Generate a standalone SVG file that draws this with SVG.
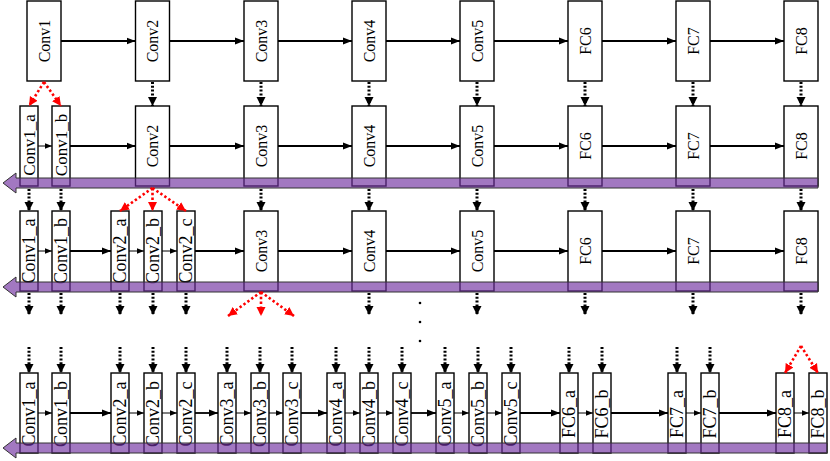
<svg xmlns="http://www.w3.org/2000/svg" width="830" height="461" viewBox="0 0 830 461">
<style>
.box{fill:#fff;stroke:#000;stroke-width:1.4}
.lbl{font-family:"Liberation Serif","Times New Roman",serif;font-size:16px;fill:#000;text-anchor:middle}
.sl{font-size:17px}
.sl2{font-size:18px}
.thick{stroke:#000;stroke-width:1.8;fill:none;marker-end:url(#ah)}
.thin{stroke:#000;stroke-width:1;fill:none;marker-end:url(#ahs)}
.dot{stroke:#000;stroke-width:3;stroke-dasharray:2 1.8;fill:none;marker-end:url(#ahd)}
.red{stroke:#f00;stroke-width:2.6;stroke-dasharray:2.4 2.4;fill:none;marker-end:url(#ahr)}
.bar{fill:#7030A0;fill-opacity:0.65;stroke:#333;stroke-width:1}
</style>
<defs>
<marker id="ah" markerUnits="userSpaceOnUse" markerWidth="9" markerHeight="8" refX="9" refY="4" orient="auto"><path d="M0,0.5 L9,4 L0,7.5 z" fill="#000"/></marker>
<marker id="ahs" markerUnits="userSpaceOnUse" markerWidth="7" markerHeight="7" refX="7" refY="3.5" orient="auto"><path d="M0,0.8 L7,3.5 L0,6.2 z" fill="#000"/></marker>
<marker id="ahd" markerUnits="userSpaceOnUse" markerWidth="9" markerHeight="10" refX="9" refY="5" orient="auto"><path d="M0,0.5 L9,5 L0,9.5 z" fill="#000"/></marker>
<marker id="ahr" markerUnits="userSpaceOnUse" markerWidth="9" markerHeight="10" refX="9" refY="5" orient="auto"><path d="M0,0.5 L9,5 L0,9.5 z" fill="#f00"/></marker>
</defs>

<!-- Row 1 -->
<g id="r1-conv1"><rect class="box" x="27" y="1" width="34" height="80"/><text class="lbl" transform="translate(44,41) rotate(-90)" y="5.5">Conv1</text></g>
<g id="r1-conv2"><rect class="box" x="135.5" y="1" width="34" height="80"/><text class="lbl" transform="translate(152.5,41) rotate(-90)" y="5.5">Conv2</text></g>
<g id="r1-conv3"><rect class="box" x="244" y="1" width="34" height="80"/><text class="lbl" transform="translate(261,41) rotate(-90)" y="5.5">Conv3</text></g>
<g id="r1-conv4"><rect class="box" x="352" y="1" width="34" height="80"/><text class="lbl" transform="translate(369,41) rotate(-90)" y="5.5">Conv4</text></g>
<g id="r1-conv5"><rect class="box" x="460" y="1" width="34" height="80"/><text class="lbl" transform="translate(477,41) rotate(-90)" y="5.5">Conv5</text></g>
<g id="r1-fc6"><rect class="box" x="568" y="1" width="34" height="80"/><text class="lbl" transform="translate(585,41) rotate(-90)" y="5.5">FC6</text></g>
<g id="r1-fc7"><rect class="box" x="676" y="1" width="34" height="80"/><text class="lbl" transform="translate(693,41) rotate(-90)" y="5.5">FC7</text></g>
<g id="r1-fc8"><rect class="box" x="784" y="1" width="34" height="80"/><text class="lbl" transform="translate(801,41) rotate(-90)" y="5.5">FC8</text></g>

<!-- Row 2 -->
<g id="r2-conv1a"><rect class="box" x="20" y="106" width="18" height="80"/><text class="lbl sl" transform="translate(29,145) rotate(-90)" y="5.8">Conv1_a</text></g>
<g id="r2-conv1b"><rect class="box" x="52" y="106" width="18" height="80"/><text class="lbl sl" transform="translate(61,145) rotate(-90)" y="5.8">Conv1_b</text></g>
<g id="r2-conv2"><rect class="box" x="135.5" y="106" width="34" height="80"/><text class="lbl" transform="translate(152.5,146) rotate(-90)" y="5.5">Conv2</text></g>
<g id="r2-conv3"><rect class="box" x="244" y="106" width="34" height="80"/><text class="lbl" transform="translate(261,146) rotate(-90)" y="5.5">Conv3</text></g>
<g id="r2-conv4"><rect class="box" x="352" y="106" width="34" height="80"/><text class="lbl" transform="translate(369,146) rotate(-90)" y="5.5">Conv4</text></g>
<g id="r2-conv5"><rect class="box" x="460" y="106" width="34" height="80"/><text class="lbl" transform="translate(477,146) rotate(-90)" y="5.5">Conv5</text></g>
<g id="r2-fc6"><rect class="box" x="568" y="106" width="34" height="80"/><text class="lbl" transform="translate(585,146) rotate(-90)" y="5.5">FC6</text></g>
<g id="r2-fc7"><rect class="box" x="676" y="106" width="34" height="80"/><text class="lbl" transform="translate(693,146) rotate(-90)" y="5.5">FC7</text></g>
<g id="r2-fc8"><rect class="box" x="784" y="106" width="34" height="80"/><text class="lbl" transform="translate(801,146) rotate(-90)" y="5.5">FC8</text></g>

<!-- Row 3 -->
<g id="r3-conv1a"><rect class="box" x="20" y="211" width="18" height="80"/><text class="lbl sl2" transform="translate(29,251) rotate(-90)" y="6">Conv1_a</text></g>
<g id="r3-conv1b"><rect class="box" x="52" y="211" width="18" height="80"/><text class="lbl sl2" transform="translate(61,251) rotate(-90)" y="6">Conv1_b</text></g>
<g id="r3-conv2a"><rect class="box" x="111" y="211" width="18" height="80"/><text class="lbl sl2" transform="translate(120,251) rotate(-90)" y="6">Conv2_a</text></g>
<g id="r3-conv2b"><rect class="box" x="144" y="211" width="18" height="80"/><text class="lbl sl2" transform="translate(153,251) rotate(-90)" y="6">Conv2_b</text></g>
<g id="r3-conv2c"><rect class="box" x="177" y="211" width="18" height="80"/><text class="lbl sl2" transform="translate(186,251) rotate(-90)" y="6">Conv2_c</text></g>
<g id="r3-conv3"><rect class="box" x="244" y="211" width="34" height="80"/><text class="lbl" transform="translate(261,251) rotate(-90)" y="5.5">Conv3</text></g>
<g id="r3-conv4"><rect class="box" x="352" y="211" width="34" height="80"/><text class="lbl" transform="translate(369,251) rotate(-90)" y="5.5">Conv4</text></g>
<g id="r3-conv5"><rect class="box" x="460" y="211" width="34" height="80"/><text class="lbl" transform="translate(477,251) rotate(-90)" y="5.5">Conv5</text></g>
<g id="r3-fc6"><rect class="box" x="568" y="211" width="34" height="80"/><text class="lbl" transform="translate(585,251) rotate(-90)" y="5.5">FC6</text></g>
<g id="r3-fc7"><rect class="box" x="676" y="211" width="34" height="80"/><text class="lbl" transform="translate(693,251) rotate(-90)" y="5.5">FC7</text></g>
<g id="r3-fc8"><rect class="box" x="784" y="211" width="34" height="80"/><text class="lbl" transform="translate(801,251) rotate(-90)" y="5.5">FC8</text></g>

<!-- Row 4 -->
<g id="r4-conv1a"><rect class="box" x="20" y="373" width="18" height="80"/><text class="lbl sl2" transform="translate(29,414) rotate(-90)" y="6">Conv1_a</text></g>
<g id="r4-conv1b"><rect class="box" x="52" y="373" width="18" height="80"/><text class="lbl sl2" transform="translate(61,414) rotate(-90)" y="6">Conv1_b</text></g>
<g id="r4-conv2a"><rect class="box" x="111" y="373" width="18" height="80"/><text class="lbl sl2" transform="translate(120,414) rotate(-90)" y="6">Conv2_a</text></g>
<g id="r4-conv2b"><rect class="box" x="144" y="373" width="18" height="80"/><text class="lbl sl2" transform="translate(153,414) rotate(-90)" y="6">Conv2_b</text></g>
<g id="r4-conv2c"><rect class="box" x="177" y="373" width="18" height="80"/><text class="lbl sl2" transform="translate(186,414) rotate(-90)" y="6">Conv2_c</text></g>
<g id="r4-conv3a"><rect class="box" x="218" y="373" width="18" height="80"/><text class="lbl sl2" transform="translate(227,414) rotate(-90)" y="6">Conv3_a</text></g>
<g id="r4-conv3b"><rect class="box" x="251" y="373" width="18" height="80"/><text class="lbl sl2" transform="translate(260,414) rotate(-90)" y="6">Conv3_b</text></g>
<g id="r4-conv3c"><rect class="box" x="283" y="373" width="18" height="80"/><text class="lbl sl2" transform="translate(292,414) rotate(-90)" y="6">Conv3_c</text></g>
<g id="r4-conv4a"><rect class="box" x="327" y="373" width="18" height="80"/><text class="lbl sl2" transform="translate(336,414) rotate(-90)" y="6">Conv4_a</text></g>
<g id="r4-conv4b"><rect class="box" x="360" y="373" width="18" height="80"/><text class="lbl sl2" transform="translate(369,414) rotate(-90)" y="6">Conv4_b</text></g>
<g id="r4-conv4c"><rect class="box" x="393" y="373" width="18" height="80"/><text class="lbl sl2" transform="translate(402,414) rotate(-90)" y="6">Conv4_c</text></g>
<g id="r4-conv5a"><rect class="box" x="436" y="373" width="18" height="80"/><text class="lbl sl2" transform="translate(445,414) rotate(-90)" y="6">Conv5_a</text></g>
<g id="r4-conv5b"><rect class="box" x="469" y="373" width="18" height="80"/><text class="lbl sl2" transform="translate(478,414) rotate(-90)" y="6">Conv5_b</text></g>
<g id="r4-conv5c"><rect class="box" x="502" y="373" width="18" height="80"/><text class="lbl sl2" transform="translate(511,414) rotate(-90)" y="6">Conv5_c</text></g>
<g id="r4-fc6a"><rect class="box" x="560" y="373" width="18" height="80"/><text class="lbl sl2" transform="translate(569,414) rotate(-90)" y="6">FC6_a</text></g>
<g id="r4-fc6b"><rect class="box" x="593" y="373" width="18" height="80"/><text class="lbl sl2" transform="translate(602,414) rotate(-90)" y="6">FC6_b</text></g>
<g id="r4-fc7a"><rect class="box" x="668" y="373" width="18" height="80"/><text class="lbl sl2" transform="translate(677,414) rotate(-90)" y="6">FC7_a</text></g>
<g id="r4-fc7b"><rect class="box" x="701" y="373" width="18" height="80"/><text class="lbl sl2" transform="translate(710,414) rotate(-90)" y="6">FC7_b</text></g>
<g id="r4-fc8a"><rect class="box" x="776" y="373" width="18" height="80"/><text class="lbl sl2" transform="translate(785,414) rotate(-90)" y="6">FC8_a</text></g>
<g id="r4-fc8b"><rect class="box" x="809" y="373" width="18" height="80"/><text class="lbl sl2" transform="translate(818,414) rotate(-90)" y="6">FC8_b</text></g>

<!-- Backward bars -->
<g id="bars">
<polygon class="bar" points="3,183 16,173 16,178 818,178 818,188 16,188 16,193"/>
<polygon class="bar" points="3,287 16,277 16,282 818,282 818,292 16,292 16,297"/>
<polygon class="bar" points="3,448 16,438 16,443 827,443 827,453 16,453 16,458"/>
</g>

<g id="connectors">
<!-- row 1 -->
<line class="thick" x1="61" y1="41" x2="135.5" y2="41"/>
<line class="thick" x1="169.5" y1="41" x2="244" y2="41"/>
<line class="thick" x1="278" y1="41" x2="352" y2="41"/>
<line class="thick" x1="386" y1="41" x2="460" y2="41"/>
<line class="thick" x1="494" y1="41" x2="568" y2="41"/>
<line class="thick" x1="602" y1="41" x2="676" y2="41"/>
<line class="thick" x1="710" y1="41" x2="784" y2="41"/>
<!-- row 2 -->
<line class="thin" x1="38" y1="146" x2="52" y2="146"/>
<line class="thick" x1="70" y1="146" x2="135.5" y2="146"/>
<line class="thick" x1="169.5" y1="146" x2="244" y2="146"/>
<line class="thick" x1="278" y1="146" x2="352" y2="146"/>
<line class="thick" x1="386" y1="146" x2="460" y2="146"/>
<line class="thick" x1="494" y1="146" x2="568" y2="146"/>
<line class="thick" x1="602" y1="146" x2="676" y2="146"/>
<line class="thick" x1="710" y1="146" x2="784" y2="146"/>
<!-- row 3 -->
<line class="thin" x1="38" y1="251" x2="52" y2="251"/>
<line class="thick" x1="70" y1="251" x2="111" y2="251"/>
<line class="thin" x1="129" y1="251" x2="144" y2="251"/>
<line class="thin" x1="162" y1="251" x2="177" y2="251"/>
<line class="thick" x1="195" y1="251" x2="244" y2="251"/>
<line class="thick" x1="278" y1="251" x2="352" y2="251"/>
<line class="thick" x1="386" y1="251" x2="460" y2="251"/>
<line class="thick" x1="494" y1="251" x2="568" y2="251"/>
<line class="thick" x1="602" y1="251" x2="676" y2="251"/>
<line class="thick" x1="710" y1="251" x2="784" y2="251"/>
<!-- row 4 -->
<line class="thin" x1="38" y1="413" x2="52" y2="413"/>
<line class="thick" x1="70" y1="413" x2="111" y2="413"/>
<line class="thin" x1="129" y1="413" x2="144" y2="413"/>
<line class="thin" x1="162" y1="413" x2="177" y2="413"/>
<line class="thick" x1="195" y1="413" x2="218" y2="413"/>
<line class="thin" x1="236" y1="413" x2="251" y2="413"/>
<line class="thin" x1="269" y1="413" x2="283" y2="413"/>
<line class="thick" x1="301" y1="413" x2="327" y2="413"/>
<line class="thin" x1="345" y1="413" x2="360" y2="413"/>
<line class="thin" x1="378" y1="413" x2="393" y2="413"/>
<line class="thick" x1="411" y1="413" x2="436" y2="413"/>
<line class="thin" x1="454" y1="413" x2="469" y2="413"/>
<line class="thin" x1="487" y1="413" x2="502" y2="413"/>
<line class="thick" x1="520" y1="413" x2="560" y2="413"/>
<line class="thin" x1="578" y1="413" x2="593" y2="413"/>
<line class="thick" x1="611" y1="413" x2="668" y2="413"/>
<line class="thin" x1="686" y1="413" x2="701" y2="413"/>
<line class="thick" x1="719" y1="413" x2="776" y2="413"/>
<line class="thin" x1="794" y1="413" x2="809" y2="413"/>

<!-- row1 -> row2 -->
<line class="red" x1="44" y1="82" x2="29" y2="106"/>
<line class="red" x1="44" y1="82" x2="61" y2="106"/>
<line class="dot" x1="152.5" y1="82" x2="152.5" y2="106"/>
<line class="dot" x1="261" y1="82" x2="261" y2="106"/>
<line class="dot" x1="369" y1="82" x2="369" y2="106"/>
<line class="dot" x1="477" y1="82" x2="477" y2="106"/>
<line class="dot" x1="585" y1="82" x2="585" y2="106"/>
<line class="dot" x1="693" y1="82" x2="693" y2="106"/>
<line class="dot" x1="801" y1="82" x2="801" y2="106"/>
<!-- row2 -> row3 -->
<line class="dot" x1="29" y1="189" x2="29" y2="211"/>
<line class="dot" x1="61" y1="189" x2="61" y2="211"/>
<line class="red" x1="152.5" y1="188" x2="120" y2="211"/>
<line class="red" x1="152.5" y1="188" x2="152.5" y2="211"/>
<line class="red" x1="152.5" y1="188" x2="186" y2="211"/>
<line class="dot" x1="261" y1="189" x2="261" y2="211"/>
<line class="dot" x1="369" y1="189" x2="369" y2="211"/>
<line class="dot" x1="477" y1="189" x2="477" y2="211"/>
<line class="dot" x1="585" y1="189" x2="585" y2="211"/>
<line class="dot" x1="693" y1="189" x2="693" y2="211"/>
<line class="dot" x1="801" y1="189" x2="801" y2="211"/>
<!-- row3 -> below -->
<line class="dot" x1="29" y1="293" x2="29" y2="315"/>
<line class="dot" x1="61" y1="293" x2="61" y2="315"/>
<line class="dot" x1="120" y1="293" x2="120" y2="315"/>
<line class="dot" x1="153" y1="293" x2="153" y2="315"/>
<line class="dot" x1="186" y1="293" x2="186" y2="315"/>
<line class="red" x1="261" y1="292" x2="228" y2="316"/>
<line class="red" x1="261" y1="292" x2="261" y2="316"/>
<line class="red" x1="261" y1="292" x2="294" y2="316"/>
<line class="dot" x1="369" y1="293" x2="369" y2="315"/>
<line class="dot" x1="477" y1="293" x2="477" y2="315"/>
<line class="dot" x1="585" y1="293" x2="585" y2="315"/>
<line class="dot" x1="693" y1="293" x2="693" y2="315"/>
<line class="dot" x1="801" y1="293" x2="801" y2="315"/>
<!-- into row 4 -->
<line class="dot" x1="29" y1="347" x2="29" y2="373"/>
<line class="dot" x1="61" y1="347" x2="61" y2="373"/>
<line class="dot" x1="120" y1="347" x2="120" y2="373"/>
<line class="dot" x1="153" y1="347" x2="153" y2="373"/>
<line class="dot" x1="186" y1="347" x2="186" y2="373"/>
<line class="dot" x1="227" y1="347" x2="227" y2="373"/>
<line class="dot" x1="260" y1="347" x2="260" y2="373"/>
<line class="dot" x1="292" y1="347" x2="292" y2="373"/>
<line class="dot" x1="336" y1="347" x2="336" y2="373"/>
<line class="dot" x1="369" y1="347" x2="369" y2="373"/>
<line class="dot" x1="402" y1="347" x2="402" y2="373"/>
<line class="dot" x1="445" y1="347" x2="445" y2="373"/>
<line class="dot" x1="478" y1="347" x2="478" y2="373"/>
<line class="dot" x1="511" y1="347" x2="511" y2="373"/>
<line class="dot" x1="569" y1="347" x2="569" y2="373"/>
<line class="dot" x1="602" y1="347" x2="602" y2="373"/>
<line class="dot" x1="677" y1="347" x2="677" y2="373"/>
<line class="dot" x1="710" y1="347" x2="710" y2="373"/>
<line class="red" x1="801" y1="346" x2="785" y2="373"/>
<line class="red" x1="801" y1="346" x2="818" y2="373"/>
</g>

<g id="ellipsis" fill="#000">
<circle cx="420" cy="303" r="1.3"/>
<circle cx="420" cy="322" r="1.3"/>
<circle cx="420" cy="341" r="1.3"/>
</g>
</svg>
